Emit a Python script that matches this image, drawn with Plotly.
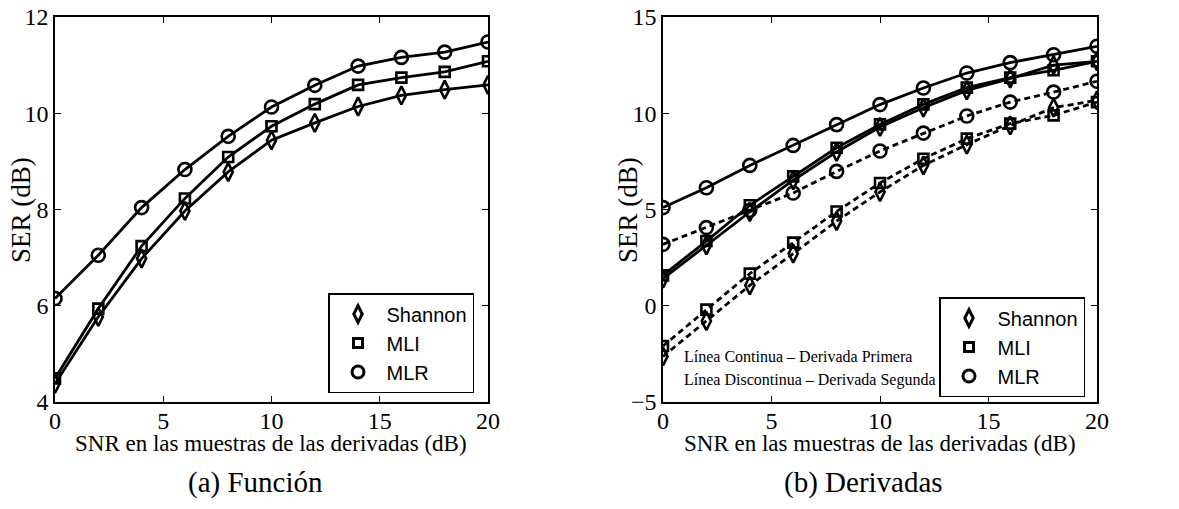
import plotly.graph_objects as go

snr = [0, 2, 4, 6, 8, 10, 12, 14, 16, 18, 20]

# (a) Función
a_shannon = [4.38, 5.77, 6.98, 7.97, 8.78, 9.44, 9.80, 10.14, 10.37, 10.49, 10.59]
a_mli = [4.49, 5.94, 7.24, 8.23, 9.09, 9.73, 10.19, 10.59, 10.74, 10.86, 11.08]
a_mlr = [6.15, 7.05, 8.04, 8.83, 9.52, 10.13, 10.58, 10.98, 11.16, 11.27, 11.48]

# (b) Derivadas - primera (continua)
b1_shannon = [1.41, 3.14, 4.87, 6.52, 7.99, 9.29, 10.29, 11.19, 11.80, 12.50, 12.70]
b1_mli = [1.58, 3.36, 5.22, 6.72, 8.21, 9.42, 10.46, 11.33, 11.85, 12.23, 12.70]
b1_mlr = [5.10, 6.13, 7.29, 8.33, 9.41, 10.45, 11.31, 12.09, 12.63, 13.04, 13.48]
# (b) Derivadas - segunda (discontinua)
b2_shannon = [-2.63, -0.79, 1.06, 2.71, 4.40, 5.91, 7.29, 8.37, 9.37, 10.29, 10.67]
b2_mli = [-2.09, -0.20, 1.67, 3.28, 4.90, 6.38, 7.64, 8.68, 9.46, 9.89, 10.58]
b2_mlr = [3.19, 4.06, 4.96, 5.86, 6.98, 8.04, 8.97, 9.86, 10.58, 11.10, 11.66]

names = ["Shannon", "MLI", "MLR"]
symbols = ["diamond-tall-open", "square-open", "circle-open"]
msizes = [13, 10, 13]

x_ticks = [0, 5, 10, 15, 20]
a_yticks = [4, 6, 8, 10, 12]
b_yticks = [-5, 0, 5, 10, 15]

xlabel = "SNR en las muestras de las derivadas (dB)"
ylabel = "SER (dB)"
captions = ["(a) Función", "(b) Derivadas"]
notes = ["Línea Continua – Derivada Primera", "Línea Discontinua – Derivada Segunda"]

SERIF = "Liberation Serif"
SANS = "Liberation Sans"
W, H = 1179, 509

fig = go.Figure()

def add(x, y, sym, size, xa, ya, dash="solid"):
    fig.add_trace(go.Scatter(
        x=x, y=y, mode="lines+markers", xaxis=xa, yaxis=ya, showlegend=False,
        line=dict(color="black", width=2.8, dash=dash),
        marker=dict(symbol=sym, size=size, color="black", line=dict(color="black", width=2.6)),
        hoverinfo="x+y"))

for ys, sym, sz in zip([a_shannon, a_mli, a_mlr], symbols, msizes):
    add(snr, ys, sym, sz, "x", "y")
for ys, sym, sz in zip([b2_shannon, b2_mli, b2_mlr], symbols, msizes):
    add(snr, ys, sym, sz, "x2", "y2", dash="6px,4px")
for ys, sym, sz in zip([b1_shannon, b1_mli, b1_mlr], symbols, msizes):
    add(snr, ys, sym, sz, "x2", "y2")

# legend entries (markers only)
for lg, xa, ya in [("legend", "x", "y"), ("legend2", "x2", "y2")]:
    for nm, sym, sz in zip(names, symbols, msizes):
        fig.add_trace(go.Scatter(
            x=[None], y=[None], mode="markers", name=nm, legend=lg, xaxis=xa, yaxis=ya,
            marker=dict(symbol=sym, size=sz - 1, color="black", line=dict(color="black", width=3))))

axis_common = dict(
    showline=True, linecolor="black", linewidth=1.5, mirror="ticks",
    ticks="inside", ticklen=6, tickcolor="black", tickwidth=1,
    showgrid=False, zeroline=False, automargin=False,
    tickfont=dict(family=SERIF, size=24, color="black"),
)

top = 1 - 17 / H
bottom = 1 - 402 / H

def paper_ann(text, px, py, size, family=SERIF, angle=0, xanchor="center"):
    return dict(text=text, x=px / W, y=1 - py / H, xref="paper", yref="paper",
                xanchor=xanchor, yanchor="middle", showarrow=False, textangle=angle,
                font=dict(family=family, size=size, color="black"))

legend_common = dict(xanchor="left", yanchor="top", bgcolor="white", bordercolor="black",
                     borderwidth=1.5, font=dict(family=SANS, size=20, color="black"),
                     itemwidth=47, tracegroupgap=0)

fig.update_layout(
    width=W, height=H,
    margin=dict(l=0, r=0, t=0, b=0),
    paper_bgcolor="white", plot_bgcolor="white",
    xaxis=dict(domain=[55 / W, 488 / W], range=[0, 20], tickvals=x_ticks, anchor="y",
               ticklabelstandoff=-4, **axis_common),
    yaxis=dict(domain=[bottom, top], range=[4, 12], tickvals=a_yticks, anchor="x",
               **axis_common),
    xaxis2=dict(domain=[663 / W, 1097 / W], range=[0, 20], tickvals=x_ticks, anchor="y2",
                ticklabelstandoff=-4, **axis_common),
    yaxis2=dict(domain=[bottom, top], range=[-5, 15], tickvals=b_yticks, anchor="x2",
                **axis_common),
    legend=dict(x=328 / W, y=1 - 293 / H, **legend_common),
    legend2=dict(x=939 / W, y=1 - 297 / H, **legend_common),
    annotations=[
        paper_ann(xlabel, 271, 443, 23),
        paper_ann(xlabel, 880, 443, 23),
        paper_ann(ylabel, 21, 210, 27, angle=-90),
        paper_ann(ylabel, 628, 210, 27, angle=-90),
        paper_ann(captions[0], 255, 482, 29),
        paper_ann(captions[1], 863, 482, 29),
        paper_ann(notes[0], 682, 356, 16, xanchor="left"),
        paper_ann(notes[1], 682, 380, 16, xanchor="left"),
    ],
)

fig.write_html("out.html")
